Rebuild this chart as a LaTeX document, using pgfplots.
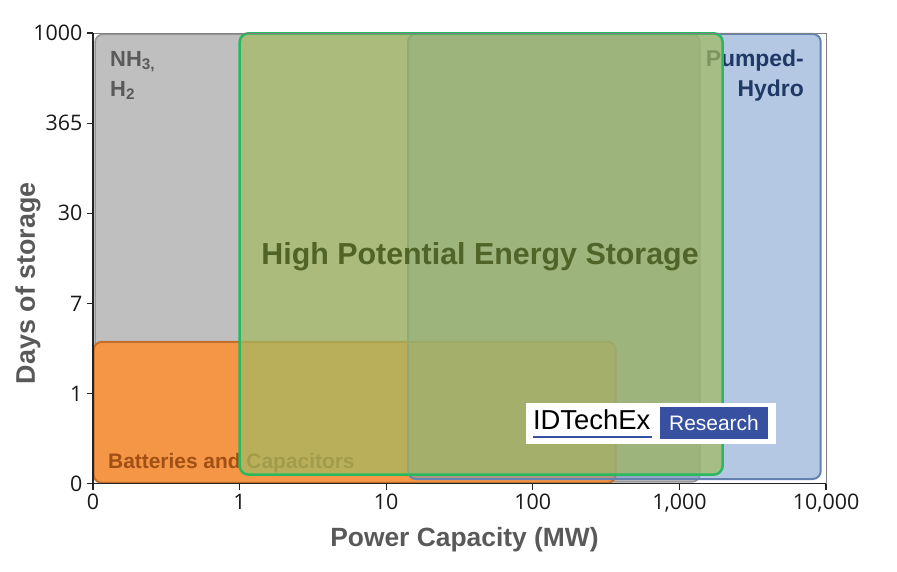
\documentclass[border=0pt]{standalone}
\usepackage{fontspec}
\setmainfont{Liberation Sans}
\newfontfamily\tickfont{Open Sans}
\usepackage{pgfplots}
\pgfplotsset{compat=1.18}
\definecolor{greyfill}{RGB}{191,191,191}
\definecolor{greyedge}{RGB}{150,150,150}
\definecolor{orangefill}{RGB}{245,150,70}
\definecolor{orangeedge}{RGB}{195,110,45}
\definecolor{bluefill}{RGB}{105,145,201}
\definecolor{blueedge}{RGB}{100,130,175}
\definecolor{greenfill}{RGB}{162,186,98}
\definecolor{greenedge}{RGB}{40,185,95}
\definecolor{labelgrey}{RGB}{89,89,89}
\definecolor{nhgrey}{RGB}{90,90,90}
\definecolor{navy}{RGB}{31,56,100}
\definecolor{olive}{RGB}{80,100,40}
\definecolor{battext}{RGB}{160,80,20}
\definecolor{idblue}{RGB}{55,80,160}
\begin{document}
\begin{tikzpicture}[x=1bp,y=1bp]
\begin{axis}[
  name=ax,
  scale only axis, width=733bp, height=450.7bp,
  xmin=0, xmax=5, ymin=0, ymax=5,
  clip=false,
  axis on top,
  axis lines=left,
  axis line style={-, draw={rgb,255:red,35;green,35;blue,35}, line width=1.4bp},
  xtick={0,1,2,3,4,5}, xticklabels={0,1,10,100,{1,000},{10,000}},
  ytick={0,1,2,3,4,5}, yticklabels={0,1,7,30,365,1000},
  tick align=outside, major tick length=6bp,
  tick style={draw={rgb,255:red,35;green,35;blue,35}, line width=1.2bp},
  ticklabel style={font=\tickfont\fontsize{21.5}{24}\selectfont, text={rgb,255:red,25;green,25;blue,25}},
  /pgf/number format/assume math mode=true,
  xticklabel style={yshift=-1bp},
  yticklabel style={xshift=-1bp},
  xlabel={Power Capacity (MW)}, ylabel={Days of storage},
  label style={font=\bfseries\fontsize{26.5}{30}\selectfont, text=labelgrey},
  xlabel style={at={(axis description cs:0.5,0)}, anchor=center, yshift=-56bp, xshift=5bp},
  ylabel style={at={(axis description cs:-0.0887,0.445)}, anchor=center, font=\bfseries\fontsize{27}{30}\selectfont},
]
\coordinate (O) at (rel axis cs:0,0);
% NH3 / H2
\addplot[fill=greyfill, draw=greyedge, line width=1.6bp, rounded corners=8bp]
  coordinates {(0.014,0.02) (4.14,0.02) (4.14,4.985) (0.014,4.985)} -- cycle;
\node[anchor=base west, font=\bfseries\fontsize{22}{26}\selectfont, text=nhgrey, inner sep=0pt]
  at (axis cs:0.116,4.63) {NH\textsubscript{3,}};
\node[anchor=base west, font=\bfseries\fontsize{22}{26}\selectfont, text=nhgrey, inner sep=0pt]
  at (axis cs:0.116,4.30) {H\textsubscript{2}};
% Batteries and Capacitors
\addplot[fill=orangefill, draw=orangeedge, line width=2bp, rounded corners=8bp]
  coordinates {(0.005,0.01) (3.565,0.01) (3.565,1.574) (0.005,1.574)} -- cycle;
\node[anchor=base west, font=\bfseries\fontsize{21}{24}\selectfont, text=battext, inner sep=0pt]
  at (axis cs:0.102,0.174) {Batteries and Capacitors};
% Pumped-Hydro
\addplot[fill=bluefill, fill opacity=0.5, draw=blueedge, line width=2bp, rounded corners=8bp]
  coordinates {(2.149,0.052) (4.964,0.052) (4.964,4.99) (2.149,4.99)} -- cycle;
\node[anchor=base east, font=\bfseries\fontsize{23}{26}\selectfont, text=navy, inner sep=0pt]
  at (axis cs:4.85,4.63) {Pumped-};
\node[anchor=base east, font=\bfseries\fontsize{23}{26}\selectfont, text=navy, inner sep=0pt]
  at (axis cs:4.85,4.30) {Hydro};
% High Potential Energy Storage
\addplot[fill=greenfill, fill opacity=0.72, draw=greenedge, line width=2.5bp, rounded corners=9bp]
  coordinates {(1.0,0.1) (4.295,0.1) (4.295,4.997) (1.0,4.997)} -- cycle;
\node[anchor=base, font=\bfseries\fontsize{30.5}{34}\selectfont, text=olive, inner sep=0pt]
  at (axis cs:2.64,2.43) {High Potential Energy Storage};
% IDTechEx logo
\fill[white] (axis cs:2.954,0.441) rectangle (axis cs:4.659,0.897);
\fill[idblue] (axis cs:3.868,0.497) rectangle (axis cs:4.604,0.852);
\node[font=\fontsize{21}{24}\selectfont, text=white, inner sep=0pt, anchor=center]
  at (axis cs:4.236,0.675) {Research};
\node[font=\fontsize{27.5}{30}\selectfont, text=black, inner sep=0pt, anchor=base west]
  at (axis cs:3.0,0.597) {IDTechEx};
\draw[idblue, line width=2.2bp] (axis cs:3.0,0.52) -- (axis cs:3.81,0.52);
% top/right frame
\draw[gray, line width=0.8bp] (rel axis cs:0,1) -- (rel axis cs:1,1) -- (rel axis cs:1,0);
\end{axis}
\path (O) ++(-93bp,-88.3bp) rectangle ++(897bp,572bp);
\end{tikzpicture}
\end{document}
